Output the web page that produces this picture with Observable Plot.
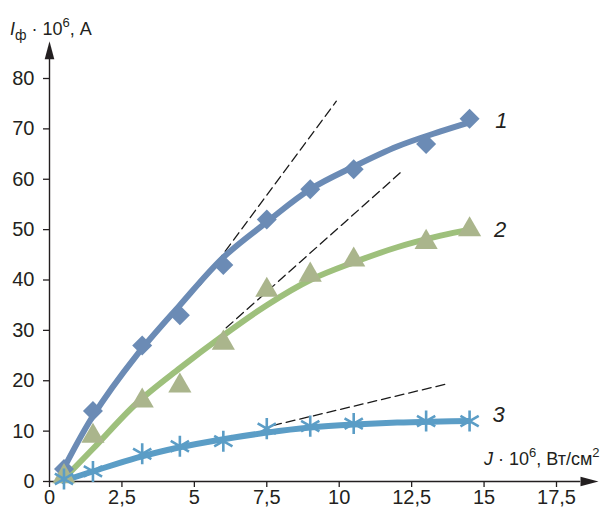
<!DOCTYPE html>
<html>
<head>
<meta charset="utf-8">
<script src="https://cdn.jsdelivr.net/npm/d3@7"></script>
<script src="https://cdn.jsdelivr.net/npm/@observablehq/plot@0.6"></script>
<style>
  html, body { margin: 0; padding: 0; background: #fff; }
  #chart svg { display: block; }
</style>
</head>
<body>
<div id="chart"></div>
<script>
// ---- data ----
const xTicks = [0, 2.5, 5, 7.5, 10, 12.5, 15, 17.5];
const yTicks = [0, 10, 20, 30, 40, 50, 60, 70, 80];

// measured points
const pointsX1 = [0.5, 1.5, 3.2, 4.5, 6, 7.5, 9, 10.5, 13, 14.5];
const pointsY1 = [2.5, 14, 27, 33, 43, 52, 58, 62, 67, 72];
const pointsX2 = [0.5, 1.5, 3.2, 4.5, 6, 7.5, 9, 10.5, 13, 14.5];
const pointsY2 = [1, 9, 16, 19, 27.5, 38, 41, 44, 47.5, 50];
const pointsX3 = [0.5, 1.5, 3.2, 4.5, 6, 7.5, 9, 10.5, 13, 14.5];
const pointsY3 = [0.5, 2, 5.5, 7, 8, 10.5, 11, 11.5, 12, 12];

// fitted curves
const curveX1 = [0.35, 1.5, 3, 4.5, 6, 7.5, 9, 10.5, 12, 13.5, 14.5];
const curveY1 = [1, 13, 25, 35, 44.5, 51.5, 58, 62.5, 66.5, 69.5, 71.3];
const curveX2 = [0.4, 1.5, 3, 4.5, 6, 7.5, 9, 10.5, 12, 13.5, 14.5];
const curveY2 = [0, 6.5, 15.5, 22.5, 29, 35, 40, 43.5, 46.5, 48.8, 50];
const curveX3 = [0.4, 1.5, 3, 4.5, 6, 7.5, 9, 10.5, 12, 13.5, 14.5];
const curveY3 = [0, 2, 4.7, 6.8, 8.4, 9.7, 10.7, 11.3, 11.7, 11.9, 12];

// dashed tangents (start, end)
const tangentX1 = [5.2, 9.9];
const tangentY1 = [39, 75.5];
const tangentX2 = [6.1, 12.15];
const tangentY2 = [30.5, 61.5];
const tangentX3 = [7.7, 13.74];
const tangentY3 = [11.1, 19.4];

const curveLabels = ["1", "2", "3"];
const labelX = [15.6, 15.55, 15.5];
const labelY = [71.5, 50, 13.3];

const colorLine = ["#6b8bb5", "#9ec07c", "#5b9dc6"];
const colorMark = ["#6b8bb5", "#aab58c", "#5b9dc6"];

// ---- build tables ----
const zip = (xs, ys) => xs.map((x, i) => ({x, y: ys[i]}));
const pts = [zip(pointsX1, pointsY1), zip(pointsX2, pointsY2), zip(pointsX3, pointsY3)];
const curves = [zip(curveX1, curveY1), zip(curveX2, curveY2), zip(curveX3, curveY3)];
const tangents = [zip(tangentX1, tangentY1), zip(tangentX2, tangentY2), zip(tangentX3, tangentY3)];
const labels = curveLabels.map((t, i) => ({t, x: labelX[i], y: labelY[i]}));

const arrowHead = {
  draw(ctx) {
    ctx.moveTo(9, 0);
    ctx.lineTo(-9, -4.8);
    ctx.lineTo(-9, 4.8);
    ctx.closePath();
  }
};

const FONT = "'Liberation Sans', Arial, sans-serif";
const AX = "#231f20";

const svg = Plot.plot({
  width: 601,
  height: 516,
  marginLeft: 49,
  marginRight: 45,
  marginTop: 78,
  marginBottom: 35,
  style: {fontFamily: FONT, fontSize: "20px", color: AX, background: "#fff"},
  x: {domain: [0, 17.5], axis: null},
  y: {domain: [0, 80], axis: null},
  marks: [
    Plot.axisX({ticks: xTicks, tickFormat: d => String(d).replace(".", ","), tickSize: 6, tickPadding: 2, stroke: AX, strokeWidth: 1.3, fill: AX, fontSize: 20, label: null}),
    Plot.axisY({ticks: yTicks, tickSize: 6, tickPadding: 9, stroke: AX, strokeWidth: 1.3, fill: AX, fontSize: 20, label: null}),
    Plot.line([[0, 0], [18.3, 0]], {stroke: AX, strokeWidth: 1.4}),
    Plot.line([[0, 0], [0, 85]], {stroke: AX, strokeWidth: 1.4}),
    Plot.dot([[18.64, 0]], {symbol: arrowHead, fill: AX, stroke: "none"}),
    Plot.dot([[0, 85.6]], {symbol: arrowHead, fill: AX, stroke: "none", rotate: -90}),
    ...tangents.map(t => Plot.line(t, {x: "x", y: "y", stroke: "#1a1a1a", strokeWidth: 1.3, strokeDasharray: "9,5"})),
    ...curves.map((c, i) => Plot.line(c, {x: "x", y: "y", stroke: colorLine[i], strokeWidth: 6, curve: "catmull-rom", strokeLinecap: "butt"})),
    Plot.dot(pts[0], {x: "x", y: "y", symbol: "diamond2", r: 9, fill: colorMark[0], stroke: "none"}),
    Plot.dot(pts[1], {x: "x", y: "y", symbol: "triangle", r: 8.6, fill: colorMark[1], stroke: "none"}),
    Plot.dot(pts[2], {x: "x", y: "y", symbol: "asterisk", r: 10, stroke: colorMark[2], strokeWidth: 2.6}),
    Plot.text(labels, {x: "x", y: "y", text: "t", fontStyle: "italic", fontSize: 22, fill: AX, textAnchor: "middle"})
  ]
});

// axis titles with sub/superscripts
const s = d3.select(svg);
const yl = s.append("text").attr("x", 10).attr("y", 35).attr("fill", AX).attr("text-anchor", "start")
  .style("font-family", FONT).style("font-size", "18px");
yl.append("tspan").style("font-style", "italic").text("I");
yl.append("tspan").attr("dy", 5).style("font-size", "14px").text("ф");
yl.append("tspan").attr("dy", -5).text(" · 10");
yl.append("tspan").attr("dy", -8).style("font-size", "13px").text("6");
yl.append("tspan").attr("dy", 8).text(", A");

const xl = s.append("text").attr("x", 484).attr("y", 465).attr("fill", AX).attr("text-anchor", "start")
  .style("font-family", FONT).style("font-size", "18px");
xl.append("tspan").style("font-style", "italic").text("J");
xl.append("tspan").text(" · 10");
xl.append("tspan").attr("dy", -8).style("font-size", "13px").text("6");
xl.append("tspan").attr("dy", 8).text(", Вт/см");
xl.append("tspan").attr("dy", -8).style("font-size", "13px").text("2");

document.getElementById("chart").appendChild(svg);
</script>
</body>
</html>
